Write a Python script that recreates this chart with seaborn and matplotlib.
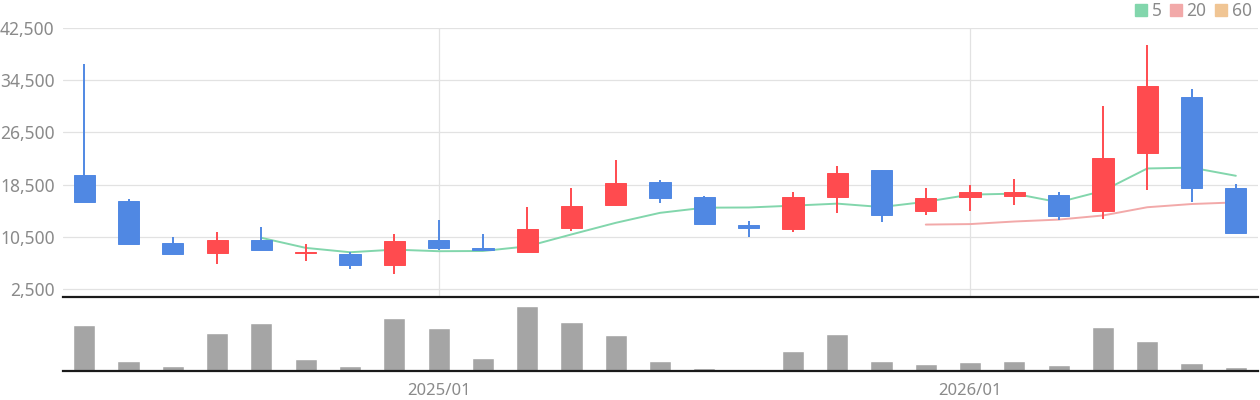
import numpy as np
import pandas as pd
import matplotlib.pyplot as plt
import matplotlib.patches as mpatches
import seaborn as sns

# 월봉 데이터 (2024/05 ~ 2026/07)
months = pd.period_range("2024-05", periods=27, freq="M").strftime("%Y/%m").tolist()
opens = [20000, 16050, 9600, 8050, 10050, 7950, 7900, 6250, 10050, 8850, 8200, 11900, 15400, 18950,
         16650, 12350, 11750, 16650, 20800, 14500, 16650, 16800, 16950, 14500, 23400, 32000, 18050]
highs = [37000, 16350, 10500, 11300, 12050, 9450, 8200, 11000, 13100, 10850, 15100, 17900, 22300, 19250,
         16800, 12950, 17400, 21400, 20800, 18050, 18500, 19400, 17400, 30600, 39950, 33200, 18650]
lows = [15900, 9450, 7900, 6400, 8400, 6850, 5600, 4850, 8400, 8250, 8050, 11450, 15250, 15750,
        12350, 10500, 11300, 14200, 12800, 13900, 14500, 15400, 13100, 13300, 17700, 15900, 11000]
closes = [15900, 9450, 7900, 10050, 8400, 8200, 6100, 9900, 8850, 8550, 11750, 15250, 18800, 16500,
          12500, 11900, 16650, 20350, 13900, 16500, 17400, 17400, 13750, 22650, 33650, 18050, 11150]
volumes = [1390, 310, 160, 1150, 1450, 370, 160, 1600, 1300, 400, 1960, 1480, 1090, 310,
           100, 70, 610, 1120, 310, 220, 280, 310, 190, 1330, 910, 250, 130]

df = pd.DataFrame({"월": months, "시가": opens, "고가": highs, "저가": lows,
                   "종가": closes, "거래량": volumes})
df["x"] = np.arange(len(df))
df["ma5"] = df["종가"].rolling(5).mean()
df["ma20"] = df["종가"].rolling(20).mean()
df["ma60"] = df["종가"].rolling(60).mean()

RED = "#ff4b4f"
BLUE = "#5088e3"
GREEN = "#82d6ac"
PINK = "#f2a9a9"
ORANGE = "#f0c594"
GRAY_TXT = "#8a8a8a"

sns.set_theme(style="white")
plt.rcParams["font.family"] = ["Noto Sans", "DejaVu Sans"]

fig = plt.figure(figsize=(12.6, 4), dpi=100)
ax = fig.add_axes([0.05, 0.2575, 0.9484, 0.6725])
ax_v = fig.add_axes([0.05, 0.0725, 0.9484, 0.185], sharex=ax)

# 캔들
up = df["종가"] >= df["시가"]
colors = np.where(up, RED, BLUE)
ax.vlines(df["x"], df["저가"], df["고가"], colors=colors, lw=1.4, zorder=3)
body_low = np.minimum(df["시가"], df["종가"])
body_h = (df["시가"] - df["종가"]).abs()
ax.bar(df["x"], body_h, bottom=body_low, width=0.48, color=colors,
       edgecolor=colors, linewidth=0.7, zorder=4)

# 이동평균선
sns.lineplot(data=df, x="x", y="ma5", color=GREEN, lw=1.4, ax=ax, zorder=2)
sns.lineplot(data=df, x="x", y="ma20", color=PINK, lw=1.4, ax=ax, zorder=2)

ax.set_xlim(-0.48, 26.5)
ax.set_ylim(1270, 42500)
ax.set_yticks(np.arange(2500, 42501, 8000))
ax.set_yticklabels([f"{v:,}" for v in range(2500, 42501, 8000)])
ax.set_xticks([8, 20])
ax.grid(True, color="#e2e2e2", lw=0.9)
ax.tick_params(axis="y", length=0, pad=6, labelsize=12.5, labelcolor=GRAY_TXT)
ax.tick_params(axis="x", length=0, labelbottom=False)
ax.set_xlabel("")
ax.set_ylabel("")
for s in ax.spines.values():
    s.set_visible(False)

# 거래량
sns.barplot(data=df, x="x", y="거래량", native_scale=True, width=0.5,
            color="#a5a5a5", saturation=1, ax=ax_v)
ax_v.set_ylim(0, 2240)
ax_v.set_yticks([])
ax_v.set_xticks([8, 20])
ax_v.set_xticklabels([months[8], months[20]])
ax_v.set_xlim(-0.48, 26.5)
ax_v.tick_params(axis="x", length=4.5, width=1.5, color="#222222", pad=4,
                 labelsize=12, labelcolor=GRAY_TXT)
ax_v.set_xlabel("")
ax_v.set_ylabel("")
ax_v.spines["left"].set_visible(False)
ax_v.spines["right"].set_visible(False)
for side in ["top", "bottom"]:
    ax_v.spines[side].set_color("#1a1a1a")
    ax_v.spines[side].set_linewidth(1.6)

# 범례
handles = [mpatches.Patch(color=GREEN, label="5"),
           mpatches.Patch(color=PINK, label="20"),
           mpatches.Patch(color=ORANGE, label="60")]
fig.legend(handles=handles, loc="upper right", bbox_to_anchor=(0.999, 1.012), ncol=3,
           frameon=False, fontsize=12.5, labelcolor=GRAY_TXT, handlelength=0.7,
           handleheight=0.7, handletextpad=0.25, columnspacing=0.5, borderaxespad=0)

fig.savefig("out.png", dpi=100)
